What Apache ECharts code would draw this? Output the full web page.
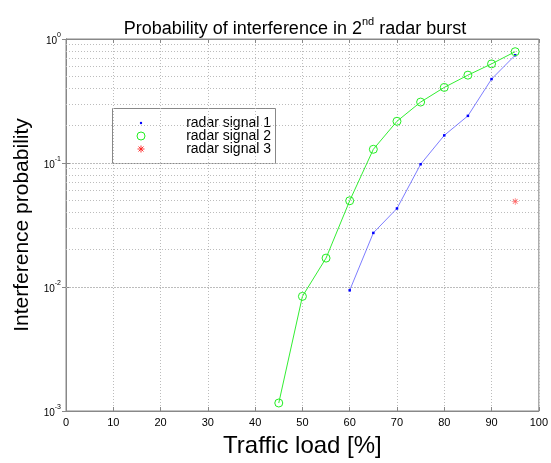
<!DOCTYPE html>
<html>
<head>
<meta charset="utf-8">
<script src="https://cdn.jsdelivr.net/npm/echarts@6/dist/echarts.min.js"></script>
<style>html,body{margin:0;padding:0;background:#fff;}#c{width:551px;height:463px;}</style>
</head>
<body>
<div id="c"></div>
<script>
// ---- data ----
const trafficLoad = [45, 50, 55, 60, 65, 70, 75, 80, 85, 90, 95];
const radarSignal1 = [null, null, null, 0.0094, 0.0273, 0.043, 0.0977, 0.167, 0.24, 0.475, 0.74];
const radarSignal2 = [0.00116, 0.0084, 0.0171, 0.0496, 0.129, 0.217, 0.31, 0.407, 0.511, 0.63, 0.79];
const radarSignal3Load = [95];
const radarSignal3 = [0.049];
const seriesNames = ['radar signal 1', 'radar signal 2', 'radar signal 3'];
const xTicks = [0, 10, 20, 30, 40, 50, 60, 70, 80, 90, 100];
const decadeExponents = [-3, -2, -1, 0];
const minorMultipliers = [2, 3, 4, 5, 6, 7, 8, 9];

const pairs = (xs, ys) => xs.map((x, i) => [x, ys[i]]).filter(p => p[1] != null);
const minorValues = [];
decadeExponents.slice(0, -1).forEach(e => minorMultipliers.forEach(m => minorValues.push(+(m * Math.pow(10, e)).toPrecision(3))));

const FONT = '"Liberation Sans", Arial, Helvetica, sans-serif';
const ASTERISK = 'path://M4.6,0h0.8v10h-0.8z M0,4.6h10v0.8h-10z M1.3,1.9l0.6,-0.6l6.8,6.8l-0.6,0.6z M8.1,1.3l0.6,0.6l-6.8,6.8l-0.6,-0.6z';
const gridColor = '#bcbcbc';
const starStroke = {stroke: '#ff2020', lineWidth: 0.9};

const chart = echarts.init(document.getElementById('c'), null, {renderer: 'canvas'});
chart.setOption({
  backgroundColor: '#fff',
  animation: false,
  textStyle: {fontFamily: FONT},
  title: {
    text: '{a|Probability of interference in 2}{s|nd}{a| radar burst}',
    left: 290, top: 11, textAlign: 'center',
    textStyle: {
      fontWeight: 'normal',
      rich: {
        a: {fontSize: 18, fontFamily: FONT, fontWeight: 'normal', color: '#000', verticalAlign: 'bottom', lineHeight: 22},
        s: {fontSize: 11, fontFamily: FONT, fontWeight: 'normal', color: '#000', verticalAlign: 'top', lineHeight: 22, padding: [0, 0, 8, 0]}
      }
    }
  },
  grid: {left: 66, right: 9, top: 39, bottom: 50, show: true, borderColor: '#888', borderWidth: 1},
  xAxis: [{
    type: 'value', min: 0, max: 100, interval: 10,
    name: 'Traffic load [%]', nameLocation: 'middle', nameGap: 23,
    nameTextStyle: {fontSize: 24, color: '#000', fontFamily: FONT},
    axisLine: {show: true, lineStyle: {color: '#888'}},
    axisTick: {show: true, inside: true, length: 4, lineStyle: {color: '#888'}},
    axisLabel: {fontSize: 11, color: '#000', margin: 6, fontFamily: FONT,
      formatter: v => xTicks.includes(v) ? String(v) : ''},
    splitLine: {show: true, lineStyle: {color: gridColor, type: [1, 2], width: 1}}
  }, {
    type: 'value', min: 0, max: 100, interval: 10, position: 'top',
    axisLine: {show: true, lineStyle: {color: '#888'}},
    axisTick: {show: true, inside: true, length: 4, lineStyle: {color: '#888'}},
    axisLabel: {show: false}, splitLine: {show: false}
  }],
  yAxis: [{
    type: 'log', logBase: 10, min: 0.001, max: 1,
    name: 'Interference probability', nameLocation: 'middle', nameGap: 33,
    nameTextStyle: {fontSize: 21, color: '#000', fontFamily: FONT},
    axisLine: {show: true, lineStyle: {color: '#888'}},
    axisTick: {show: true, inside: true, length: 4, lineStyle: {color: '#888'}},
    axisLabel: {
      margin: 5, color: '#000',
      formatter: v => '{b|10}{e|' + Math.round(Math.log10(v)) + '}',
      rich: {
        b: {fontSize: 10, fontFamily: FONT, color: '#000', verticalAlign: 'bottom', lineHeight: 14},
        e: {fontSize: 7, fontFamily: FONT, color: '#000', verticalAlign: 'top', lineHeight: 14, padding: [0, 0, 6, 0]}
      }
    },
    splitLine: {show: true, lineStyle: {color: gridColor, type: [2, 1], width: 1}}
  }, {
    type: 'log', logBase: 10, min: 0.001, max: 1, position: 'right',
    axisLine: {show: true, lineStyle: {color: '#888'}},
    axisTick: {show: true, inside: true, length: 4, lineStyle: {color: '#888'}},
    axisLabel: {show: false}, splitLine: {show: false}
  }],
  series: [{
    name: seriesNames[0], type: 'line', xAxisIndex: 0, yAxisIndex: 0,
    data: pairs(trafficLoad, radarSignal1),
    symbol: 'rect', symbolSize: 2.5,
    itemStyle: {color: '#0000ff'},
    lineStyle: {color: 'rgba(70,70,255,0.7)', width: 1},
    z: 5
  }, {
    name: seriesNames[1], type: 'line', xAxisIndex: 0, yAxisIndex: 0,
    data: pairs(trafficLoad, radarSignal2),
    symbol: 'circle', symbolSize: 8,
    itemStyle: {color: 'rgba(0,0,0,0)', borderColor: '#22ee22', borderWidth: 1},
    lineStyle: {color: '#33ee33', width: 1},
    z: 6
  }, {
    name: seriesNames[2], type: 'scatter', xAxisIndex: 0, yAxisIndex: 0,
    data: pairs(radarSignal3Load, radarSignal3),
    symbol: ASTERISK, symbolSize: 7,
    itemStyle: {color: '#ff3030'},
    z: 7,
    markLine: {
      silent: true, symbol: 'none', animation: false,
      label: {show: false},
      lineStyle: {color: gridColor, type: [1, 2], width: 1},
      data: minorValues.map(v => ({yAxis: v}))
    }
  }],
  graphic: [{
    type: 'group', left: 112, top: 108, z: 100,
    children: [
      {type: 'rect', shape: {x: 0.5, y: 0.5, width: 163, height: 55}, style: {fill: '#fff', stroke: '#888', lineWidth: 1}},
      {type: 'circle', shape: {cx: 29, cy: 15, r: 1.2}, style: {fill: '#0000ff'}},
      {type: 'circle', shape: {cx: 29, cy: 28, r: 4}, style: {fill: 'none', stroke: '#22ee22', lineWidth: 1}},
      {type: 'line', shape: {x1: 25.5, y1: 41, x2: 32.5, y2: 41}, style: starStroke},
      {type: 'line', shape: {x1: 29, y1: 37.5, x2: 29, y2: 44.5}, style: starStroke},
      {type: 'line', shape: {x1: 26.5, y1: 38.5, x2: 31.5, y2: 43.5}, style: starStroke},
      {type: 'line', shape: {x1: 31.5, y1: 38.5, x2: 26.5, y2: 43.5}, style: starStroke},
      {type: 'text', style: {text: seriesNames[0], x: 159, y: 15, align: 'right', verticalAlign: 'middle', font: '14px ' + FONT, fill: '#000'}},
      {type: 'text', style: {text: seriesNames[1], x: 159, y: 28, align: 'right', verticalAlign: 'middle', font: '14px ' + FONT, fill: '#000'}},
      {type: 'text', style: {text: seriesNames[2], x: 159, y: 41, align: 'right', verticalAlign: 'middle', font: '14px ' + FONT, fill: '#000'}}
    ]
  }]
});
</script>
</body>
</html>
